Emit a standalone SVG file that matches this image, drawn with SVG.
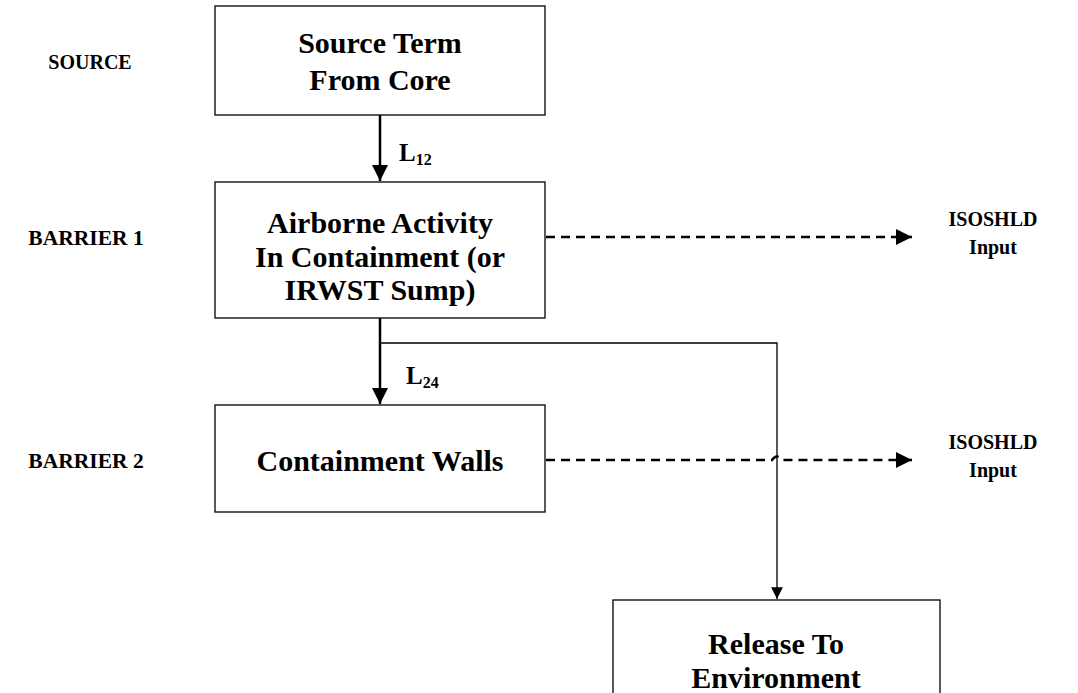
<svg xmlns="http://www.w3.org/2000/svg" width="1078" height="693" viewBox="0 0 1078 693">
<style>
text{font-family:"Liberation Serif","Times New Roman",serif;font-weight:bold;fill:#000}
.box{fill:#fff;stroke:#000;stroke-width:1.3}
.bt{font-size:30px;text-anchor:middle}
.lbl{font-size:20px;text-anchor:middle}
.bar{font-size:21.5px;text-anchor:middle}
.iso{font-size:20px;text-anchor:middle}
.thick{stroke:#000;stroke-width:2.5;fill:none}
.thin{stroke:#000;stroke-width:1.3;fill:none}
.dash{stroke:#000;stroke-width:2.5;fill:none;stroke-dasharray:9 6}
</style>
<defs>
<marker id="ah" viewBox="0 0 10 10" refX="10" refY="5" markerWidth="6.5" markerHeight="6.5" markerUnits="strokeWidth" orient="auto">
<path d="M0,0 L10,5 L0,10 z" fill="#000"/>
</marker>
<marker id="ahs" viewBox="0 0 10 10" refX="10" refY="5" markerWidth="10" markerHeight="9" markerUnits="strokeWidth" orient="auto">
<path d="M0,0 L10,5 L0,10 z" fill="#000"/>
</marker>
</defs>
<rect width="1078" height="693" fill="#fff"/>
<g id="labels">
<text class="lbl" x="90" y="69">SOURCE</text>
<text class="bar" x="86" y="245">BARRIER 1</text>
<text class="bar" x="86" y="468">BARRIER 2</text>
</g>
<g id="connectors">
<line class="thick" x1="380" y1="115" x2="380" y2="181" marker-end="url(#ah)"/>
<line class="thick" x1="380" y1="318" x2="380" y2="404" marker-end="url(#ah)"/>
<polyline class="thin" points="380,343 777,343 777,599" marker-end="url(#ahs)"/>
<line class="dash" x1="546" y1="237" x2="912" y2="237" marker-end="url(#ah)"/>
<path class="dash" d="M546,460 L772,460 Q777,453 782,460 L912,460" marker-end="url(#ah)"/>
<text x="399" y="161" font-size="25px">L<tspan font-size="16px" dy="4">12</tspan></text>
<text x="406" y="384" font-size="25px">L<tspan font-size="16px" dy="4">24</tspan></text>
</g>
<g id="node-source">
<rect class="box" x="215" y="6" width="330" height="109"/>
<text class="bt" x="380" y="53">Source Term</text>
<text class="bt" x="380" y="90">From Core</text>
</g>
<g id="node-airborne">
<rect class="box" x="215" y="182" width="330" height="136"/>
<text class="bt" x="380" y="233">Airborne Activity</text>
<text class="bt" x="380" y="267">In Containment (or</text>
<text class="bt" x="380" y="300">IRWST Sump)</text>
</g>
<g id="node-walls">
<rect class="box" x="215" y="405" width="330" height="107"/>
<text class="bt" x="380" y="471">Containment Walls</text>
</g>
<g id="node-release">
<rect class="box" x="613" y="600" width="327" height="110"/>
<text class="bt" x="776" y="654">Release To</text>
<text class="bt" x="776" y="688">Environment</text>
</g>
<g id="node-iso1">
<text class="iso" x="993" y="226">ISOSHLD</text>
<text class="iso" x="993" y="254">Input</text>
</g>
<g id="node-iso2">
<text class="iso" x="993" y="449">ISOSHLD</text>
<text class="iso" x="993" y="477">Input</text>
</g>
</svg>
